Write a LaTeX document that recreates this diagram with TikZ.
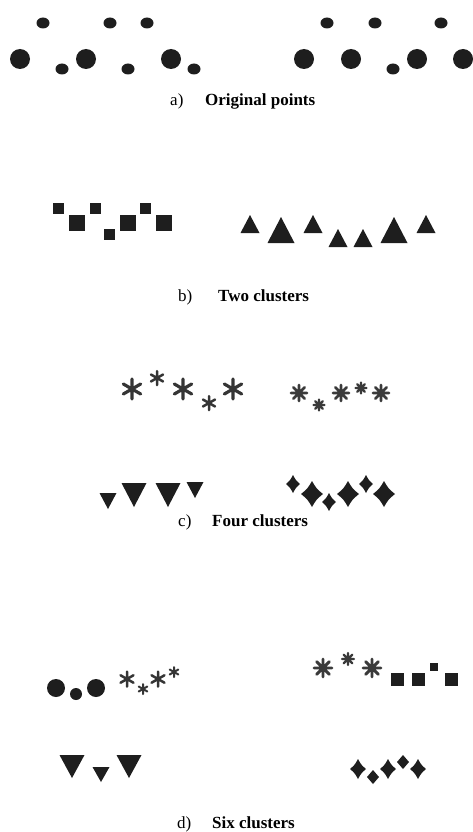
\documentclass[tikz,border=0pt]{standalone}
\usepackage{fontspec}
\setmainfont{Liberation Serif}
\definecolor{ink}{HTML}{1E1E1E}
\definecolor{grayink}{HTML}{3A3A3A}
\newcommand\Dot[3]{\fill[shp] (#1,#2) circle[radius=#3pt];}
\newcommand\SDot[2]{\fill[shp] (#1,#2) ellipse[x radius=6.5pt,y radius=5.5pt];}
\newcommand\Sq[3]{\fill[shp] ({#1-#3/2},{#2-#3/2}) rectangle ({#1+#3/2},{#2+#3/2});}
\newcommand\TriUp[4]{\fill[shp] ({#1-#3/2},#2) -- ({#1+#3/2},#2) -- (#1,{#2-#4}) -- cycle;}
\newcommand\TriDn[4]{\fill[shp] ({#1-#3/2},#2) -- ({#1+#3/2},#2) -- (#1,{#2+#4}) -- cycle;}
\newcommand\Diam[4]{\fill[shp,shift={(#1,#2)},xscale=#3,yscale=#4] (0,-1) .. controls (0.41,-0.41) .. (1,0) .. controls (0.41,0.41) .. (0,1) .. controls (-0.41,0.41) .. (-1,0) .. controls (-0.41,-0.41) .. (0,-1) -- cycle;}
\newcommand\AstSix[4]{\draw[astsix,line width=#4pt,shift={(#1,#2)}] (0,-#3) -- (0,#3) ({-0.866*#3},{-0.5*#3}) -- ({0.866*#3},{0.5*#3}) ({-0.866*#3},{0.5*#3}) -- ({0.866*#3},{-0.5*#3});}
\newcommand\AstEight[4]{\draw[asteight,line width=#4pt,shift={(#1,#2)}] (0,-#3) -- (0,#3) (-#3,0) -- (#3,0) ({-0.707*#3},{-0.707*#3}) -- ({0.707*#3},{0.707*#3}) ({-0.707*#3},{0.707*#3}) -- ({0.707*#3},{-0.707*#3});}
\begin{document}
\begin{tikzpicture}[x=1pt,y=-1pt,
  shp/.style={fill=ink},
  astsix/.style={draw=ink!90,line cap=round},
  asteight/.style={draw=grayink,line cap=round},
  lbl/.style={inner sep=0pt,anchor=base west,font=\fontsize{17}{20}\selectfont},
  lblb/.style={lbl,font=\fontsize{17}{20}\selectfont\bfseries}]
\useasboundingbox (0,0) rectangle (473,832);
% ---- a) original points
\SDot{43}{23}\SDot{110}{23}\SDot{147}{23}\SDot{327}{23}\SDot{375}{23}\SDot{441}{23}
\Dot{20}{59}{10}\Dot{86}{59}{10}\Dot{171}{59}{10}
\Dot{304}{59}{10}\Dot{351}{59}{10}\Dot{417}{59}{10}\Dot{463}{59}{10}
\SDot{62}{69}\SDot{128}{69}\SDot{194}{69}\SDot{393}{69}
\node[lbl] (la) at (170,106) {a)};
\node[lblb] (ta) at (205,106) {Original points};
% ---- b) two clusters
\Sq{58}{208}{11}\Sq{95}{208}{11}\Sq{145}{208}{11}\Sq{109}{234}{11}
\Sq{77}{223}{16}\Sq{128}{223}{16}\Sq{164}{223}{16}
\TriUp{250}{233}{19}{18}\TriUp{313}{233}{19}{18}\TriUp{426}{233}{19}{18}
\TriUp{281}{243}{27}{26}\TriUp{394}{243}{27}{26}
\TriUp{338}{247}{19}{18}\TriUp{363}{247}{19}{18}
\node[lbl] (lb) at (178,301) {b)};
\node[lblb] (tb) at (218,301) {Two clusters};
% ---- c) four clusters
\AstSix{132}{389}{10}{3.2}\AstSix{183}{389}{10}{3.2}\AstSix{233}{389}{10}{3.2}
\AstSix{157}{378}{7}{2.5}\AstSix{209}{403}{7}{2.5}
\AstEight{299}{393}{8}{2.8}\AstEight{341}{393}{8}{2.8}\AstEight{381}{393}{8}{2.8}
\AstEight{319}{405}{5.5}{2.2}\AstEight{361}{388}{5.5}{2.2}
\TriDn{108}{493}{17}{16}\TriDn{134}{483}{25}{24}\TriDn{168}{483}{25}{24}\TriDn{195}{482}{17}{16}
\Diam{293}{484}{7}{9}\Diam{329}{502}{7}{9}\Diam{366}{484}{7}{9}
\Diam{312}{494}{11}{13}\Diam{348}{494}{11}{13}\Diam{384}{494}{11}{13}
\node[lbl] (lc) at (178,526) {c)};
\node[lblb] (tc) at (212,526) {Four clusters};
% ---- d) six clusters
\Dot{56}{688}{9}\Dot{96}{688}{9}\Dot{76}{694}{6}
\AstSix{127}{679}{7.5}{2.5}\AstSix{158}{679}{7.5}{2.5}
\AstSix{143}{689}{5}{2}\AstSix{174}{672}{5}{2}
\AstEight{323}{668}{9}{2.9}\AstEight{372}{668}{9}{2.9}\AstEight{348}{659}{6}{2.3}
\Sq{397}{679}{13}\Sq{418}{679}{13}\Sq{451}{679}{13}\Sq{434}{667}{8}
\TriDn{72}{755}{25}{23}\TriDn{129}{755}{25}{23}\TriDn{101}{767}{17}{15}
\Diam{358}{769}{8}{10}\Diam{388}{769}{8}{10}\Diam{418}{769}{8}{10}
\Diam{373}{777}{6}{7}\Diam{403}{762}{6}{7}
\node[lbl] (ld) at (177,828) {d)};
\node[lblb] (td) at (212,828) {Six clusters};
\end{tikzpicture}
\end{document}
